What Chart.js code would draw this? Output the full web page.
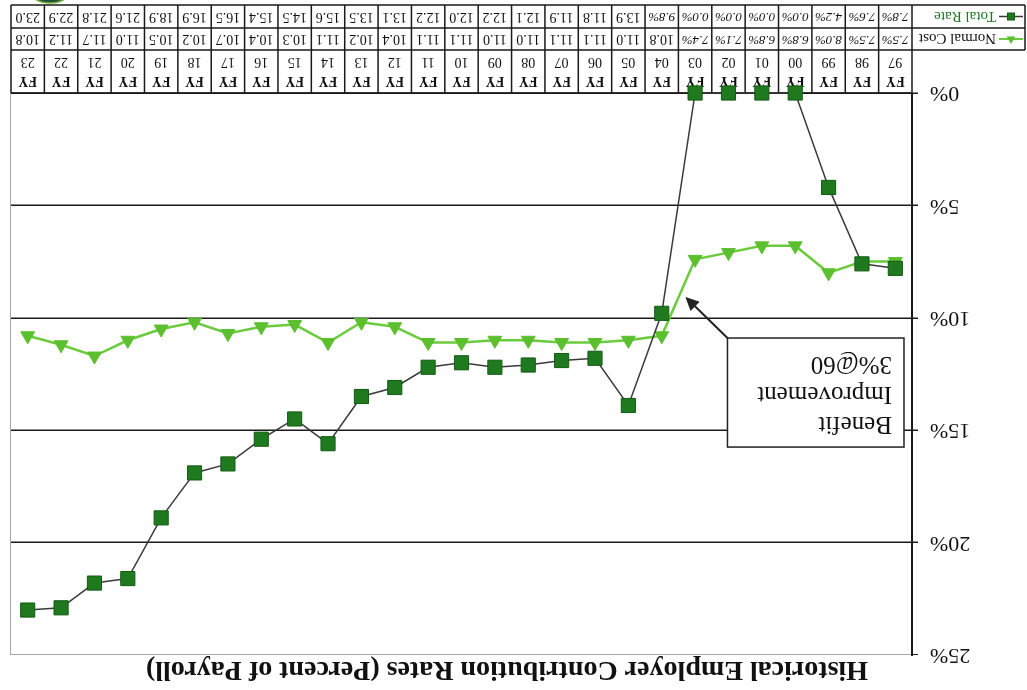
<!DOCTYPE html>
<html>
<head>
<meta charset="utf-8">
<script src="https://cdn.jsdelivr.net/npm/chart.js@4.4.1/dist/chart.umd.min.js"></script>
<style>
  html, body { margin: 0; padding: 0; background: #fff; }
  #wrap { width: 1027px; height: 690px; transform: rotate(180deg); }
  canvas { display: block; }
</style>
</head>
<body>
<div id="wrap"><canvas id="c" width="1027" height="690"></canvas></div>
<script>
// Fiscal years on the category axis
const fiscalYears = ['97','98','99','00','01','02','03','04','05','06','07','08','09','10','11','12','13','14','15','16','17','18','19','20','21','22','23'];
// Employer contribution rates, percent of payroll
const totalRate  = [7.8, 7.6, 4.2, 0.0, 0.0, 0.0, 0.0, 9.8, 13.9, 11.8, 11.9, 12.1, 12.2, 12.0, 12.2, 13.1, 13.5, 15.6, 14.5, 15.4, 16.5, 16.9, 18.9, 21.6, 21.8, 22.9, 23.0];
const normalCost = [7.5, 7.5, 8.0, 6.8, 6.8, 7.1, 7.4, 10.8, 11.0, 11.1, 11.1, 11.0, 11.0, 11.1, 11.1, 10.4, 10.2, 11.1, 10.3, 10.4, 10.7, 10.2, 10.5, 11.0, 11.7, 11.2, 10.8];
const seriesNames = ['Total Rate', 'Normal Cost'];
// number of leading table cells shown with a percent sign, per series
const percentCells = [8, 7];
const yTicks = [0, 5, 10, 15, 20, 25];
const chartTitle = 'Historical Employer Contribution Rates (Percent of Payroll)';
const noteLines = ['Benefit', 'Improvement', '3%@60'];
// callout box (category index / percent units) and its arrow tip
const noteBox = { x0: -0.26, x1: 5.03, yTop: 15.75, yBottom: 10.9 };
const noteArrowTip = { x: 6.29, y: 9.07 };

const SERIF = '"Liberation Serif", "Times New Roman", serif';
const colors = {
  totalLine: '#3a3a3a', totalFill: '#1f7a1f', totalEdge: '#145a14',
  normalLine: '#6acb3c', normalFill: '#5bbf2e'
};

function drawSquare(ctx, x, y, s, fill, edge) {
  ctx.fillStyle = fill; ctx.fillRect(x - s / 2, y - s / 2, s, s);
  ctx.strokeStyle = edge; ctx.lineWidth = 1; ctx.strokeRect(x - s / 2, y - s / 2, s, s);
}
function drawTriangle(ctx, x, y, r, fill) {
  ctx.beginPath();
  for (let k = 0; k < 3; k++) {
    const a = k * 2 * Math.PI / 3;
    ctx.lineTo(x + Math.sin(a) * r, y - Math.cos(a) * r);
  }
  ctx.closePath(); ctx.fillStyle = fill; ctx.fill();
}

// data table under the plot: year row, then one row per series
const dataTable = {
  id: 'dataTable',
  beforeDatasetsDraw(chart) {
    const { ctx, chartArea: a, scales: { x } } = chart;
    const n = fiscalYears.length;
    const half = (x.getPixelForValue(1) - x.getPixelForValue(0)) / 2;
    const rowTop = a.bottom, rowYear = a.bottom + 43, rowNormal = a.bottom + 65, rowTotal = a.bottom + 88;
    const tableLeft = 2;
    ctx.save();
    // plot frame on the far side
    ctx.strokeStyle = '#a8a8a8'; ctx.lineWidth = 1;
    ctx.beginPath(); ctx.moveTo(a.right + 0.5, a.top); ctx.lineTo(a.right + 0.5, a.bottom); ctx.stroke();

    ctx.strokeStyle = '#1a1a1a'; ctx.lineWidth = 1.5;
    ctx.beginPath();
    [rowYear, rowNormal, rowTotal].forEach(yy => { ctx.moveTo(tableLeft, yy); ctx.lineTo(a.right, yy); });
    ctx.moveTo(a.left, rowTop); ctx.lineTo(a.right, rowTop);
    for (let i = 0; i <= n; i++) {
      const xx = i < n ? x.getPixelForValue(i) - half : x.getPixelForValue(n - 1) + half;
      ctx.moveTo(xx, rowTop); ctx.lineTo(xx, rowTotal);
    }
    ctx.moveTo(tableLeft, rowYear); ctx.lineTo(tableLeft, rowTotal);
    ctx.stroke();

    ctx.fillStyle = '#111'; ctx.textAlign = 'center'; ctx.textBaseline = 'middle';
    fiscalYears.forEach((fy, i) => {
      const cx = x.getPixelForValue(i);
      ctx.font = 'bold 14px ' + SERIF; ctx.fillText('FY', cx, rowTop + 12);
      ctx.font = '14px ' + SERIF; ctx.fillText(fy, cx, rowTop + 31);
    });
    const rows = [[totalRate, (rowNormal + rowTotal) / 2, 0], [normalCost, (rowYear + rowNormal) / 2, 1]];
    rows.forEach(([vals, cy, s]) => {
      vals.forEach((v, i) => {
        const cx = x.getPixelForValue(i);
        if (i < percentCells[s]) {
          ctx.font = 'italic 13px ' + SERIF; ctx.fillText(v.toFixed(1) + '%', cx, cy);
        } else {
          ctx.font = '14px ' + SERIF; ctx.fillText(v.toFixed(1), cx, cy);
        }
      });
    });
    // series keys in the first column
    ctx.textAlign = 'left';
    ctx.font = '15px ' + SERIF;
    const ty = (rowNormal + rowTotal) / 2, ny = (rowYear + rowNormal) / 2;
    ctx.strokeStyle = colors.totalLine; ctx.lineWidth = 1.5;
    ctx.beginPath(); ctx.moveTo(4, ty); ctx.lineTo(28, ty); ctx.stroke();
    drawSquare(ctx, 16, ty, 7, colors.totalFill, colors.totalEdge);
    ctx.fillText(seriesNames[0], 31, ty + 1);
    ctx.strokeStyle = colors.normalLine; ctx.lineWidth = 2;
    ctx.beginPath(); ctx.moveTo(4, ny); ctx.lineTo(28, ny); ctx.stroke();
    drawTriangle(ctx, 16, ny, 5, colors.normalFill);
    ctx.fillStyle = '#111';
    ctx.fillText(seriesNames[1], 31, ny + 1);

    // edge of the emblem peeking in at the lower corner
    ctx.beginPath();
    ctx.ellipse(977, 698, 19, 11, 0, 0, Math.PI * 2);
    ctx.fillStyle = '#24503a'; ctx.fill();
    ctx.strokeStyle = '#6fae3c'; ctx.lineWidth = 1.5; ctx.stroke();
    ctx.restore();
  }
};

// callout with arrow
const callout = {
  id: 'callout',
  afterDatasetsDraw(chart) {
    const { ctx, scales: { x, y } } = chart;
    const px = v => x.getPixelForValue(0) + v * (x.getPixelForValue(1) - x.getPixelForValue(0));
    const L = px(noteBox.x0), R = px(noteBox.x1), T = y.getPixelForValue(noteBox.yTop), B = y.getPixelForValue(noteBox.yBottom);
    const tx = px(noteArrowTip.x), ty = y.getPixelForValue(noteArrowTip.y);
    ctx.save();
    ctx.fillStyle = '#fff'; ctx.fillRect(L, T, R - L, B - T);
    ctx.strokeStyle = '#222'; ctx.lineWidth = 1.5; ctx.strokeRect(L, T, R - L, B - T);
    // arrow from the box corner
    const ang = Math.atan2(ty - B, tx - R);
    ctx.lineWidth = 2;
    ctx.beginPath(); ctx.moveTo(R, B); ctx.lineTo(tx - Math.cos(ang) * 8, ty - Math.sin(ang) * 8); ctx.stroke();
    ctx.beginPath();
    ctx.moveTo(tx, ty);
    ctx.lineTo(tx - Math.cos(ang - 0.45) * 15, ty - Math.sin(ang - 0.45) * 15);
    ctx.lineTo(tx - Math.cos(ang + 0.45) * 15, ty - Math.sin(ang + 0.45) * 15);
    ctx.closePath(); ctx.fillStyle = '#222'; ctx.fill();
    ctx.fillStyle = '#111'; ctx.font = '25px ' + SERIF; ctx.textAlign = 'left'; ctx.textBaseline = 'alphabetic';
    noteLines.forEach((t, i) => ctx.fillText(t, L + 12, T + 30 + i * 30));
    ctx.restore();
  }
};

new Chart(document.getElementById('c'), {
  type: 'line',
  data: {
    labels: fiscalYears.map(fy => 'FY ' + fy),
    datasets: [
      {
        label: seriesNames[0], data: totalRate, clip: false,
        borderColor: colors.totalLine, borderWidth: 1.5,
        pointStyle: 'rect', pointRadius: 10, pointBackgroundColor: colors.totalFill,
        pointBorderColor: colors.totalEdge, pointBorderWidth: 1
      },
      {
        label: seriesNames[1], data: normalCost, clip: false,
        borderColor: colors.normalLine, borderWidth: 2.5,
        pointStyle: 'triangle', pointRadius: 8, pointBackgroundColor: colors.normalFill,
        pointBorderColor: colors.normalFill, pointBorderWidth: 1
      }
    ]
  },
  options: {
    responsive: false, animation: false, devicePixelRatio: 1,
    layout: { padding: { left: 22, right: 9, top: 0, bottom: 93 } },
    plugins: {
      legend: { display: false },
      tooltip: { enabled: false },
      title: {
        display: true, text: chartTitle, color: '#111',
        font: { family: SERIF, size: 28, weight: 'bold', lineHeight: 1 },
        padding: { top: 7, bottom: 0 }
      }
    },
    scales: {
      x: { display: false, offset: true },
      y: {
        min: 0, max: 25,
        afterFit(s) { s.width = 93; },
        afterBuildTicks(s) { s.ticks = yTicks.map(v => ({ value: v })); },
        ticks: { callback: v => v + '%', color: '#111', font: { family: SERIF, size: 22 }, padding: 12 },
        grid: {
          color: c => (c.tick && c.tick.value === 25) ? '#a8a8a8' : '#1a1a1a',
          lineWidth: c => (c.tick && c.tick.value === 25) ? 1 : 1.5,
          tickLength: 6, tickColor: '#1a1a1a'
        },
        border: { color: '#1a1a1a', width: 2 }
      }
    }
  },
  plugins: [dataTable, callout]
});
</script>
</body>
</html>
